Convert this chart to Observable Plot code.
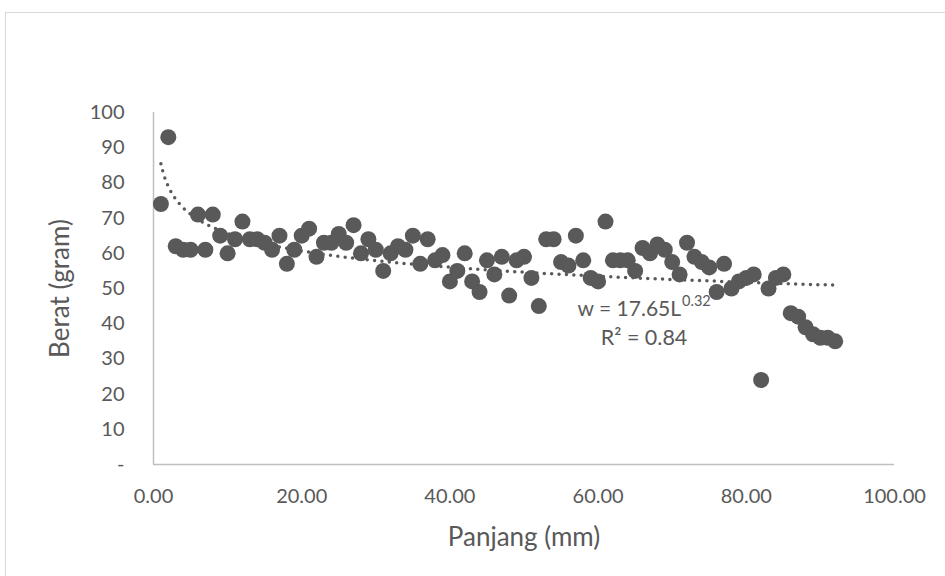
<!DOCTYPE html>
<html>
<head>
<meta charset="utf-8">
<script src="https://cdn.jsdelivr.net/npm/d3@7"></script>
<script src="https://cdn.jsdelivr.net/npm/@observablehq/plot@0.6"></script>
<style>
  html, body { margin: 0; padding: 0; background: #fff; }
  #wrap { position: relative; width: 945px; height: 576px; overflow: hidden; }
  #border { position: absolute; left: 5px; top: 12px; width: 945px; height: 576px; border: 1px solid #d9d9d9; box-sizing: border-box; }
  #chart { position: absolute; left: 0; top: 0; }
</style>
</head>
<body>
<div id="wrap"><div id="border"></div><div id="chart"></div></div>
<script>
// Panjang (mm)
const panjang = d3.range(1, 93);
// Berat (gram)
const berat = [
  74, 93, 62, 61, 61, 71, 61, 71, 65, 60,
  64, 69, 64, 64, 63, 61, 65, 57, 61, 65,
  67, 59, 63, 63, 65.5, 63, 68, 60, 64, 61,
  55, 60, 62, 61, 65, 57, 64, 58, 59.5, 52,
  55, 60, 52, 49, 58, 54, 59, 48, 58, 59,
  53, 45, 64, 64, 57.5, 56.5, 65, 58, 53, 52,
  69, 58, 58, 58, 55, 61.5, 60, 62.5, 61, 57.5,
  54, 63, 59, 57.5, 56, 49, 57, 50, 52, 53,
  54, 24, 50, 53, 54, 43, 42, 39, 37, 36,
  36, 35
];
const xTicks = [0, 20, 40, 60, 80, 100];
const yTicks = [0, 10, 20, 30, 40, 50, 60, 70, 80, 90, 100];
const eqText = "w = 17.65L";
const eqExp = "0.32";
const r2Text = "R² = 0.84";

const data = panjang.map((x, i) => ({x, y: berat[i]}));

// Power trendline (least squares in log-log space, as a spreadsheet does)
const n = data.length;
let sx = 0, sy = 0, sxx = 0, sxy = 0;
for (const d of data) {
  const lx = Math.log(d.x), ly = Math.log(d.y);
  sx += lx; sy += ly; sxx += lx * lx; sxy += lx * ly;
}
const b = (n * sxy - sx * sy) / (n * sxx - sx * sx);
const a = Math.exp((sy - b * sx) / n);
const xMin = d3.min(panjang), xMax = d3.max(panjang);
const trend = d3.range(xMin, xMax + 0.001, 0.25).map(x => ({x, y: a * Math.pow(x, b)}));

const grey = "#595959";
const font = "Lato, 'Open Sans', sans-serif";

const chart = Plot.plot({
  width: 945,
  height: 576,
  marginLeft: 153,
  marginRight: 51,
  marginTop: 112,
  marginBottom: 112,
  style: { fontFamily: font, fontSize: "20px", color: grey, background: "transparent", overflow: "visible" },
  x: { domain: [0, 100], ticks: xTicks, tickFormat: d3.format(".2f"), tickSize: 0, tickPadding: 24, label: null },
  y: { domain: [0, 100], ticks: yTicks, tickFormat: d => d === 0 ? "-" : d, tickSize: 0, tickPadding: 29, label: null },
  marks: [
    Plot.ruleX([0], { stroke: "#bfbfbf", strokeWidth: 1.5 }),
    Plot.ruleY([0], { stroke: "#bfbfbf", strokeWidth: 1.5 }),
    Plot.dot(data, { x: "x", y: "y", r: 8, fill: grey, stroke: "none" }),
    Plot.line(trend, { x: "x", y: "y", stroke: grey, strokeWidth: 3.5, strokeDasharray: "0 7.4", strokeLinecap: "round" }),
    Plot.text([eqText], { x: 71.2, y: 44, text: d => d, textAnchor: "end", fill: grey, fontSize: 21 }),
    Plot.text([eqExp], { x: 71.2, y: 44, text: d => d, textAnchor: "start", dx: 1, dy: -8, fill: grey, fontSize: 14.5 }),
    Plot.text([r2Text], { x: 66.2, y: 35.8, text: d => d, textAnchor: "middle", fill: grey, fontSize: 21.5 }),
    Plot.text(["Panjang (mm)"], { frameAnchor: "bottom", dy: 73, text: d => d, textAnchor: "middle", lineAnchor: "middle", fill: grey, fontSize: 26 }),
    Plot.text(["Berat (gram)"], { frameAnchor: "left", dx: -93, rotate: -90, text: d => d, textAnchor: "middle", lineAnchor: "middle", fill: grey, fontSize: 26 })
  ]
});
document.getElementById("chart").appendChild(chart);
</script>
</body>
</html>
